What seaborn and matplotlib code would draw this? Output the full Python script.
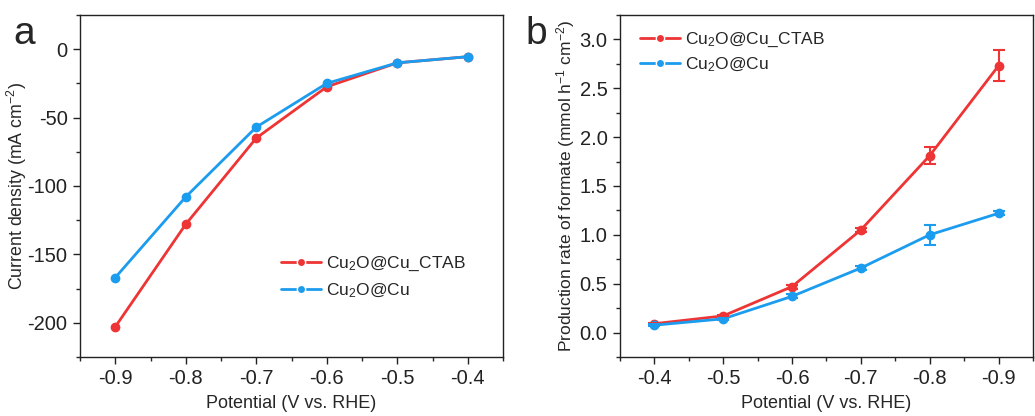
import numpy as np
import pandas as pd
import seaborn as sns
import matplotlib
matplotlib.use("Agg")
import matplotlib.pyplot as plt
from matplotlib.ticker import MultipleLocator

# ---- data ----
potential = [-0.9, -0.8, -0.7, -0.6, -0.5, -0.4]
series_names = ["Cu$_2$O@Cu_CTAB", "Cu$_2$O@Cu"]
current_ctab = [-203, -128, -65, -27.5, -10, -5.5]
current_cu = [-167, -108, -57, -25, -10, -5.5]
rate_ctab = [2.73, 1.81, 1.05, 0.47, 0.17, 0.09]
rate_cu = [1.22, 1.00, 0.66, 0.37, 0.14, 0.075]
rate_ctab_err = [0.16, 0.09, 0.02, 0.02, 0.01, 0.01]
rate_cu_err = [0.02, 0.10, 0.02, 0.02, 0.01, 0.01]
xticks_a = [-0.9, -0.8, -0.7, -0.6, -0.5, -0.4]
yticks_a = [0, -50, -100, -150, -200]
yticks_b = [0.0, 0.5, 1.0, 1.5, 2.0, 2.5, 3.0]

sns.set_theme(style="ticks")
plt.rcParams['font.family'] = ['Liberation Sans', 'DejaVu Sans']
plt.rcParams['mathtext.fontset'] = 'custom'
plt.rcParams['mathtext.rm'] = 'Liberation Sans'
plt.rcParams['mathtext.it'] = 'Liberation Sans:italic'
plt.rcParams['axes.unicode_minus'] = False

colors = ["#EE3434", "#1C9CEE"]

df_a = pd.DataFrame({
    "Potential": potential * 2,
    "value": current_ctab + current_cu,
    "series": [series_names[0]] * 6 + [series_names[1]] * 6,
})
df_b = pd.DataFrame({
    "Potential": potential * 2,
    "value": rate_ctab + rate_cu,
    "series": [series_names[0]] * 6 + [series_names[1]] * 6,
})

fig = plt.figure(figsize=(10.35, 4.16), dpi=100)
ax1 = fig.add_axes([0.0773, 0.142, 0.4087, 0.822])
ax2 = fig.add_axes([0.599, 0.142, 0.399, 0.822])

mk = dict(marker="o", markersize=6, markeredgewidth=1.0, linewidth=2)
for ax, df in ((ax1, df_a), (ax2, df_b)):
    sns.lineplot(data=df, x="Potential", y="value", hue="series",
                 palette=colors, ax=ax, sort=False, legend=True, **mk)

# error bars in b
for vals, errs, c in ((rate_ctab, rate_ctab_err, colors[0]), (rate_cu, rate_cu_err, colors[1])):
    ax2.errorbar(potential, vals, yerr=errs, fmt="none", ecolor=c,
                 elinewidth=1.5, capsize=4, capthick=1.5, zorder=3)

for ax in (ax1, ax2):
    for ln, c in zip(ax.get_lines()[:2], colors):
        ln.set_markeredgecolor(c)
        ln.set_markerfacecolor(c)

# axes a
ax1.set_xlim(-0.95, -0.35)
ax1.set_ylim(-225, 25)
ax1.set_xticks(xticks_a)
ax1.set_xticklabels([f"{v:.1f}" for v in xticks_a])
ax1.set_yticks(yticks_a)
ax1.set_yticklabels([str(v) for v in yticks_a])
ax1.xaxis.set_minor_locator(MultipleLocator(0.05))
ax1.yaxis.set_minor_locator(MultipleLocator(25))
ax1.set_xlabel("Potential (V vs. RHE)", fontsize=13, labelpad=5)
ax1.set_ylabel("Current density (mA cm$^{-2}$)", fontsize=12.8)
ax1.yaxis.set_label_coords(-0.12, 0.5)

# axes b
ax2.set_xlim(-0.35, -0.95)
ax2.set_ylim(-0.25, 3.25)
ax2.set_xticks(xticks_a)
ax2.set_xticklabels([f"{v:.1f}" for v in xticks_a])
ax2.set_yticks(yticks_b)
ax2.set_yticklabels([f"{v:.1f}" for v in yticks_b])
ax2.xaxis.set_minor_locator(MultipleLocator(0.05))
ax2.yaxis.set_minor_locator(MultipleLocator(0.25))
ax2.set_xlabel("Potential (V vs. RHE)", fontsize=13, labelpad=5)
ax2.set_ylabel("Production rate of formate (mmol h$^{-1}$ cm$^{-2}$)", fontsize=12.5)
ax2.yaxis.set_label_coords(-0.105, 0.5)

for ax in (ax1, ax2):
    for sp in ax.spines.values():
        sp.set_visible(True)
        sp.set_linewidth(1.0)
        sp.set_color("#222222")
    ax.tick_params(axis="both", which="major", direction="out", length=5,
                   width=1, labelsize=14.5, colors="#222222", pad=4)
    ax.tick_params(axis="both", which="minor", direction="out", length=3, width=1)
    ax.tick_params(top=False, right=False, which="both")

leg1 = ax1.legend(loc="lower right", bbox_to_anchor=(0.95, 0.12), frameon=False,
                  fontsize=12.5, handlelength=2.3, handletextpad=0.3,
                  labelspacing=0.5)
leg2 = ax2.legend(loc="upper left", bbox_to_anchor=(0.01, 1.0), frameon=False,
                  fontsize=12.5, handlelength=2.3, handletextpad=0.3,
                  labelspacing=0.4)

fig.text(0.013, 0.962, "a", fontsize=28, va="top", ha="left")
fig.text(0.508, 0.962, "b", fontsize=28, va="top", ha="left")

fig.savefig("out.png", dpi=100)
